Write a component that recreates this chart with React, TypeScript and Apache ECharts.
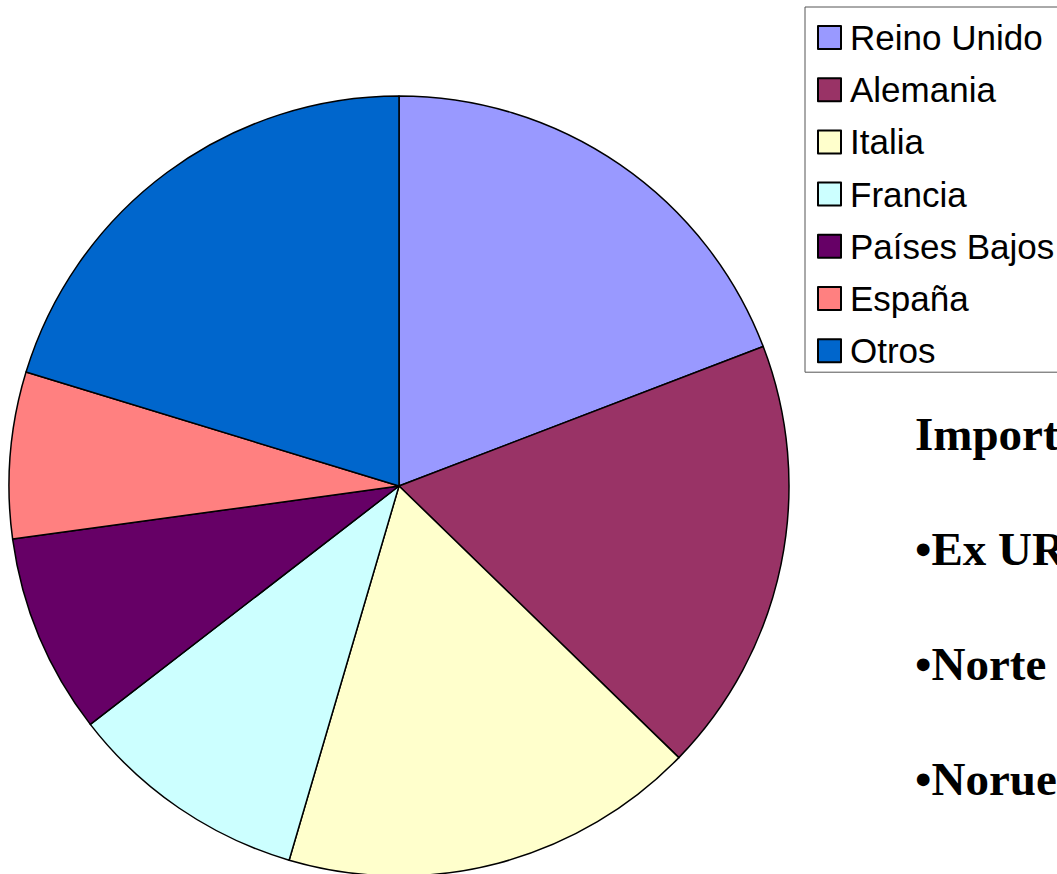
import React, { useEffect, useRef } from "react";
import * as echarts from "echarts";

const categories = ["Reino Unido", "Alemania", "Italia", "Francia", "Países Bajos", "España", "Otros"];
const values = [19.2, 18.1, 17.3, 10.0, 8.3, 6.9, 20.3];
const colors = ["#9999ff", "#993366", "#ffffcc", "#ccffff", "#660066", "#ff8080", "#0066cc"];
const sideTexts = ["Importaciones:", "•Ex URSS", "•Norte de África", "•Noruega"];

export default function App() {
  const ref = useRef<HTMLDivElement>(null);
  useEffect(() => {
    if (!ref.current) return;
    const chart = echarts.init(ref.current, null, { renderer: "svg" });
    const textBaselines = [434, 549, 664, 779];
    chart.setOption({
      animation: false,
      backgroundColor: "#ffffff",
      legend: {
        orient: "vertical",
        left: 805,
        top: 7,
        padding: [13, 40, 4, 12],
        borderColor: "#555555",
        borderWidth: 1,
        itemWidth: 23,
        itemHeight: 23,
        itemGap: 17.2,
        icon: "rect",
        textStyle: {
          fontFamily: "Liberation Sans",
          fontSize: 35,
          color: "#000000",
          lineHeight: 30,
          padding: [0, 0, 0, 4],
        },
        data: categories,
      },
      graphic: sideTexts.map((t, i) => ({
        type: "text",
        x: 915,
        y: textBaselines[i],
        style: {
          text: t,
          fontFamily: "Liberation Serif",
          fontWeight: "bold",
          fontSize: 47,
          fill: "#000000",
          verticalAlign: "middle",
          align: "left",
        },
      })),
      series: [
        {
          type: "pie",
          center: [399, 486],
          radius: 390,
          startAngle: 90,
          clockwise: true,
          label: { show: false },
          labelLine: { show: false },
          emphasis: { disabled: true },
          itemStyle: { borderColor: "#000000", borderWidth: 1.5 },
          data: categories.map((c, i) => ({
            name: c,
            value: values[i],
            itemStyle: { color: colors[i] },
          })),
        },
      ],
    });
    return () => chart.dispose();
  }, []);
  return (
    <div
      ref={ref}
      style={{ position: "absolute", left: 0, top: 0, width: 1057, height: 874 }}
    />
  );
}
